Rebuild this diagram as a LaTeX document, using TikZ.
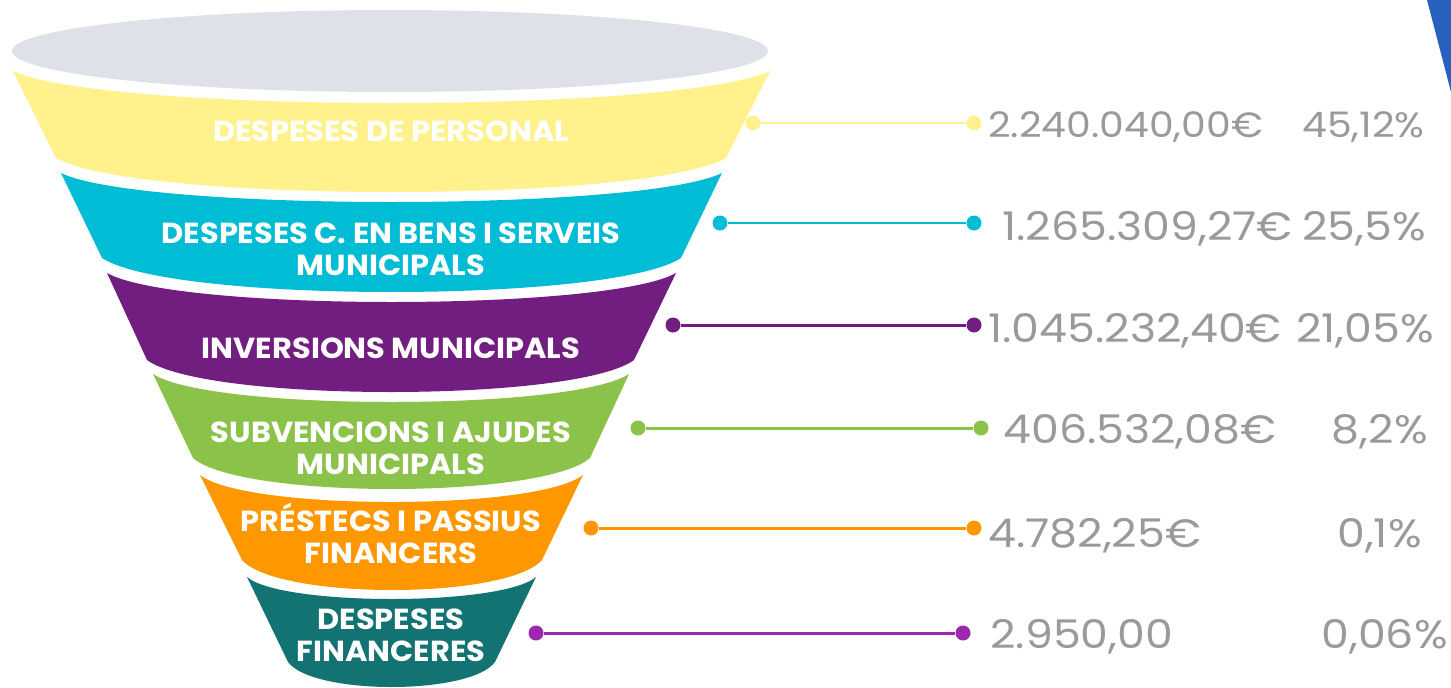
\documentclass[tikz,border=0pt]{standalone}
\usepackage{fontspec}
\setmainfont{Poppins}
\newfontfamily\labfont{Poppins Bold}[FakeStretch=1.05]
\newfontfamily\valfont{Poppins}[FakeStretch=1.12]
\definecolor{cYellow}{HTML}{FFF18C}
\definecolor{cCyan}{HTML}{00BCD4}
\definecolor{cPurple}{HTML}{721D80}
\definecolor{cGreen}{HTML}{8BC34A}
\definecolor{cOrange}{HTML}{FF9800}
\definecolor{cTeal}{HTML}{137373}
\definecolor{cViolet}{HTML}{9C27B0}
\definecolor{cRim}{HTML}{DEE2E8}
\definecolor{cBlue}{HTML}{2962BE}
\definecolor{cVal}{HTML}{9A9A9A}
\newcommand{\flayer}[9]{%
  \fill[#1] (#2,#4) .. controls ({#2+0.12*(#3-#2)},{#4+1.3333*#5}) and ({#3-0.12*(#3-#2)},{#4+1.3333*#5}) .. (#3,#4)
    -- (#7,#8) .. controls ({#7-0.12*(#7-#6)},{#8+1.3333*#9}) and ({#6+0.12*(#7-#6)},{#8+1.3333*#9}) .. (#6,#8) -- cycle;}
\tikzset{
  lab/.style={text=white, align=center, inner sep=0pt, font=\labfont\fontsize{16.5}{18.2}\selectfont},
  val/.style={text=cVal, inner sep=0pt, font=\valfont\fontsize{22.5}{24}\selectfont},
  valsmall/.style={text=cVal, inner sep=0pt, font=\valfont\fontsize{20}{22}\selectfont},
  dot/.style={circle, inner sep=0pt, minimum size=15*0.02cm},
  conn/.style={line width=1.7pt},
}
\begin{document}
\begin{tikzpicture}[x=0.02cm, y=-0.02cm]
\useasboundingbox (0,0) rectangle (1451,687);
% top-right blue corner
\fill[cBlue] (1427,0) -- (1451,0) -- (1451,92) -- cycle;
% rim
\fill[cRim] (390,51) ellipse [x radius=378, y radius=41];
% layers
\flayer{cYellow}{13}{770}{71}{32}{56}{726}{158}{34}
\flayer{cCyan}{61}{722}{173}{29}{102}{681}{258}{34}
\flayer{cPurple}{107}{676}{273}{29}{147}{634}{360}{32}
\flayer{cGreen}{153}{629}{374}{28}{193}{590}{458}{31}
\flayer{cOrange}{200}{583}{475}{27}{242}{542}{560}{30}
\flayer{cTeal}{247}{536}{577}{22}{288}{495}{662}{25}
% labels
\node[lab] (l1) at (391,131) {DESPESES DE PERSONAL};
\node[lab] (l2) at (391,249) {DESPESES C. EN BENS I SERVEIS\\MUNICIPALS};
\node[lab] (l3) at (391,348) {INVERSIONS MUNICIPALS};
\node[lab] (l4) at (391,448) {SUBVENCIONS I AJUDES\\MUNICIPALS};
\node[lab] (l5) at (391,533) {PRÉSTECS I PASSIUS\\FINANCERS};
\node[lab] (l6) at (391,635) {DESPESES\\FINANCERES};
% dots
\node[dot, fill=cYellow] (a1) at (753,123) {};
\node[dot, fill=cYellow] (b1) at (974,123) {};
\node[dot, fill=cCyan] (a2) at (720,223) {};
\node[dot, fill=cCyan] (b2) at (974,223) {};
\node[dot, fill=cPurple] (a3) at (673,325) {};
\node[dot, fill=cPurple] (b3) at (974,325) {};
\node[dot, fill=cGreen] (a4) at (638,428) {};
\node[dot, fill=cGreen] (b4) at (981,428) {};
\node[dot, fill=cOrange] (a5) at (591,528) {};
\node[dot, fill=cOrange] (b5) at (974,528) {};
\node[dot, fill=cViolet] (a6) at (536,633) {};
\node[dot, fill=cViolet] (b6) at (963,633) {};
% connectors
\draw[conn, cYellow] (a1) -- (b1);
\draw[conn, cCyan] (a2) -- (b2);
\draw[conn, cPurple] (a3) -- (b3);
\draw[conn, cGreen] (a4) -- (b4);
\draw[conn, cOrange] (a5) -- (b5);
\draw[conn, cViolet] (a6) -- (b6);
% values
\node[valsmall, anchor=base west] (v1) at (988,137) {2.240.040,00€};
\node[valsmall, anchor=base east] (p1) at (1425,137) {45,12\%};
\node[val, anchor=base west] (v2) at (1002,240) {1.265.309,27€};
\node[val, anchor=base east] (p2) at (1426,240) {25,5\%};
\node[val, anchor=base west] (v3) at (988,342) {1.045.232,40€};
\node[val, anchor=base east] (p3) at (1434,342) {21,05\%};
\node[val, anchor=base west] (v4) at (1003,443) {406.532,08€};
\node[val, anchor=base east] (p4) at (1428,443) {8,2\%};
\node[val, anchor=base west] (v5) at (988,547) {4.782,25€};
\node[val, anchor=base east] (p5) at (1422,547) {0,1\%};
\node[val, anchor=base west] (v6) at (990,648) {2.950,00};
\node[val, anchor=base east] (p6) at (1448,648) {0,06\%};
\end{tikzpicture}
\end{document}
